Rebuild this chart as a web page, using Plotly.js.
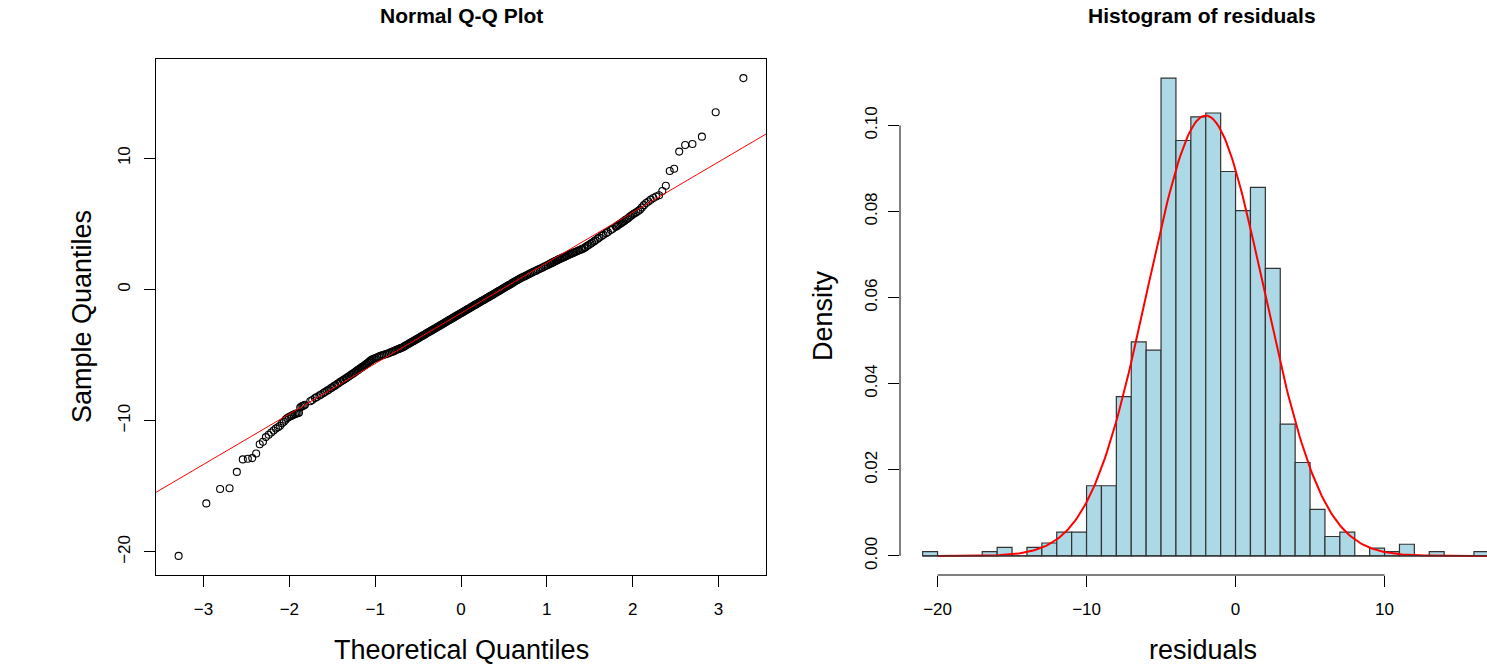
<!DOCTYPE html>
<html>
<head>
<meta charset="utf-8">
<script src="https://cdn.plot.ly/plotly-3.0.1.min.js"></script>
<style>
html,body{margin:0;padding:0;background:#fff;overflow:hidden;}
#chart{width:1487px;height:664px;}
</style>
</head>
<body>
<div id="chart"></div>
<script>
// ---------------- DATA ----------------
// Normal Q-Q plot: sorted residuals (sample quantiles) at given ranks, n = 1000
const qqN = 1000;
// ranks 1..35
const qqLowTail = [-20.3,-16.3,-15.2,-15.15,-13.9,-12.95,-12.9,-12.85,-12.5,-11.8,
  -11.6,-11.25,-11.07,-10.9,-10.75,-10.6,-10.5,-10.38,-10.2,-10.08,
  -9.92,-9.8,-9.72,-9.66,-9.6,-9.55,-9.5,-9.46,-9.43,-9.4,
  -9.0,-8.92,-8.88,-8.84,-8.78];
// ranks 40..965 step 5
const qqBody = [
  -8.52,-8.28,-8.08,-7.89,-7.71,-7.53,-7.37,-7.21,-7.06,-6.92,
  -6.78,-6.66,-6.52,-6.40,-6.27,-6.15,-6.03,-5.92,-5.81,-5.70,
  -5.58,-5.46,-5.35,-5.29,-5.23,-5.17,-5.11,-5.06,-5.02,-4.98,
  -4.94,-4.90,-4.86,-4.81,-4.77,-4.72,-4.67,-4.62,-4.58,-4.53,
  -4.49,-4.45,-4.40,-4.34,-4.28,-4.22,-4.16,-4.10,-4.05,-3.99,
  -3.94,-3.88,-3.83,-3.77,-3.72,-3.66,-3.61,-3.55,-3.50,-3.45,
  -3.40,-3.34,-3.29,-3.24,-3.19,-3.14,-3.09,-3.04,-2.99,-2.94,
  -2.89,-2.84,-2.79,-2.74,-2.69,-2.64,-2.59,-2.54,-2.49,-2.44,
  -2.39,-2.34,-2.29,-2.25,-2.20,-2.15,-2.10,-2.05,-2.00,-1.96,
  -1.91,-1.86,-1.81,-1.77,-1.72,-1.67,-1.62,-1.57,-1.52,-1.47,
  -1.43,-1.38,-1.33,-1.28,-1.23,-1.18,-1.14,-1.09,-1.04,-0.99,
  -0.94,-0.89,-0.85,-0.80,-0.75,-0.70,-0.65,-0.60,-0.55,-0.50,
  -0.45,-0.40,-0.34,-0.29,-0.23,-0.18,-0.13,-0.08,-0.02,0.03,
  0.09,0.14,0.20,0.25,0.31,0.36,0.42,0.48,0.54,0.60,
  0.66,0.72,0.78,0.83,0.89,0.94,0.99,1.04,1.10,1.15,
  1.21,1.27,1.33,1.38,1.43,1.50,1.56,1.61,1.67,1.74,
  1.81,1.87,1.94,2.01,2.09,2.16,2.24,2.31,2.39,2.46,
  2.54,2.62,2.71,2.78,2.87,2.96,3.05,3.16,3.32,3.48,
  3.66,3.87,4.08,4.29,4.52,4.77];
// ranks 42..147 step 5
const qqLowFill = [-8.42,-8.20,-8.00,-7.82,-7.64,-7.47,-7.31,-7.15,-7.00,-6.86,
  -6.73,-6.60,-6.47,-6.35,-6.22,-6.10,-5.99,-5.88,-5.77,-5.65,-5.53,-5.42];
// ranks 852..962 step 5
const qqHighFill = [1.97,2.04,2.12,2.19,2.27,2.34,2.42,2.49,2.57,2.66,
  2.74,2.82,2.91,3.00,3.09,3.22,3.38,3.55,3.74,3.95,4.16,4.38,4.62];
// ranks 966..1000
const qqHighTail = [4.83,4.90,4.96,5.02,5.08,5.15,5.22,5.30,5.37,5.44,
  5.55,5.63,5.72,5.80,5.88,5.97,6.08,6.25,6.42,6.58,
  6.70,6.84,6.97,7.08,7.18,7.5,7.9,9.02,9.2,10.5,
  11.0,11.08,11.64,13.5,16.1];
const qqSegments = [
  {start:1,   step:1, values:qqLowTail},
  {start:40,  step:5, values:qqBody},
  {start:42,  step:5, values:qqLowFill},
  {start:852, step:5, values:qqHighFill},
  {start:966, step:1, values:qqHighTail}
];

// Histogram of residuals (bin width 1, density)
const binLefts = [-21,-20,-19,-18,-17,-16,-15,-14,-13,-12,-11,-10,-9,-8,-7,-6,-5,-4,-3,-2,
  -1,0,1,2,3,4,5,6,7,8,9,10,11,12,13,14,15,16];
const binDensity = [0.001,0,0,0,0.001,0.002,0,0.002,0.003,0.0055,0.0055,0.0163,0.0163,0.037,0.0497,0.0478,0.111,0.0965,0.102,0.1029,
  0.0893,0.0802,0.0856,0.0668,0.0306,0.0217,0.0108,0.0045,0.0055,0,0.0018,0.001,0.0027,0,0.001,0,0,0.001];
const curveMean = -2.0, curveSd = 3.9, curveFrom = -20, curveTo = 17;

const qqXTicks = [-3,-2,-1,0,1,2,3];
const qqYTicks = [-20,-10,0,10];
const histXTicks = [-20,-10,0,10];
const histYTicks = [0,0.02,0.04,0.06,0.08,0.10];

// ---------------- helpers ----------------
function qnorm(p){
  const a=[-3.969683028665376e+01,2.209460984245205e+02,-2.759285104469687e+02,1.383577518672690e+02,-3.066479806614716e+01,2.506628277459239e+00];
  const b=[-5.447609879822406e+01,1.615858368580409e+02,-1.556989798598866e+02,6.680131188771972e+01,-1.328068155288572e+01];
  const c=[-7.784894002430293e-03,-3.223964580411365e-01,-2.400758277161838e+00,-2.549732539343734e+00,4.374664141464968e+00,2.938163982698783e+00];
  const d=[7.784695709041462e-03,3.224671290700398e-01,2.445134137142996e+00,3.754408661907416e+00];
  const pl=0.02425, ph=1-pl; let q,r;
  if(p<pl){q=Math.sqrt(-2*Math.log(p));return (((((c[0]*q+c[1])*q+c[2])*q+c[3])*q+c[4])*q+c[5])/((((d[0]*q+d[1])*q+d[2])*q+d[3])*q+1);}
  if(p<=ph){q=p-0.5;r=q*q;return (((((a[0]*r+a[1])*r+a[2])*r+a[3])*r+a[4])*r+a[5])*q/(((((b[0]*r+b[1])*r+b[2])*r+b[3])*r+b[4])*r+1);}
  q=Math.sqrt(-2*Math.log(1-p));return -(((((c[0]*q+c[1])*q+c[2])*q+c[3])*q+c[4])*q+c[5])/((((d[0]*q+d[1])*q+d[2])*q+d[3])*q+1);
}
const W=1487,H=664;
const px=x=>x/W, py=y=>1-y/H;

// Q-Q points
const qqRank=[], qqSample=[];
qqSegments.forEach(s=>s.values.forEach((v,i)=>{qqRank.push(s.start+i*s.step);qqSample.push(v);}));
const qqTheo = qqRank.map(r=>qnorm((r-0.5)/qqN));
// qqline through the quartiles
const q1 = qqSample[qqRank.indexOf(250)], q3 = qqSample[qqRank.indexOf(750)];
const z1 = qnorm(0.25), z3 = qnorm(0.75);
const slope = (q3-q1)/(z3-z1), intercept = q1 - slope*z1;
const xLo=-3.554, xHi=3.554;

// histogram
const binCenters = binLefts.map(l=>l+0.5);
const curveX=[],curveY=[];
for(let i=0;i<=300;i++){const x=curveFrom+(curveTo-curveFrom)*i/300;curveX.push(x);
  curveY.push(Math.exp(-0.5*Math.pow((x-curveMean)/curveSd,2))/(curveSd*Math.sqrt(2*Math.PI)));}

const FONT='"Liberation Sans", Arial, "DejaVu Sans", sans-serif';

const traces=[
  {type:'scatter',mode:'markers',x:qqTheo,y:qqSample,xaxis:'x',yaxis:'y',
   marker:{symbol:'circle-open',size:7,color:'#000',line:{width:1.1,color:'#000'}},hoverinfo:'skip'},
  {type:'scatter',mode:'lines',x:[xLo,xHi],y:[intercept+slope*xLo,intercept+slope*xHi],xaxis:'x',yaxis:'y',
   line:{color:'#ff0000',width:1},hoverinfo:'skip'},
  {type:'bar',x:binCenters,y:binDensity,width:1,xaxis:'x2',yaxis:'y2',
   marker:{color:'#ADD8E6',line:{color:'#333333',width:1.2}},hoverinfo:'skip'},
  {type:'scatter',mode:'lines',x:curveX,y:curveY,xaxis:'x2',yaxis:'y2',
   line:{color:'#ff0000',width:2},hoverinfo:'skip'}
];

const tickBase={ticks:'outside',ticklen:11,tickwidth:1,tickcolor:'#000',showgrid:false,zeroline:false,
  tickfont:{family:FONT,size:17,color:'#000'}};
const yDom=[py(575),py(59)];
const ann=(text,x,y,size,angle)=>({text:text,xref:'paper',yref:'paper',x:px(x),y:py(y),xanchor:'center',yanchor:'middle',
  textangle:angle||0,showarrow:false,font:{size:size,family:FONT,color:'#000'}});
const layout={
  width:W,height:H,margin:{l:0,r:0,t:0,b:0},paper_bgcolor:'#fff',plot_bgcolor:'#fff',showlegend:false,
  font:{family:FONT,color:'#000'},
  xaxis:Object.assign({},tickBase,{domain:[px(156),px(766)],range:[xLo,xHi],anchor:'y',tickvals:qqXTicks,
    showline:true,linecolor:'#000',linewidth:1,mirror:true,ticklabelstandoff:8}),
  yaxis:Object.assign({},tickBase,{domain:yDom,range:[-21.756,17.556],anchor:'x',tickvals:qqYTicks,tickangle:-90,
    showline:true,linecolor:'#000',linewidth:1,mirror:true,ticklabelstandoff:7}),
  xaxis2:Object.assign({},tickBase,{domain:[px(900),1],range:[-22.52,16.876],anchor:'y2',tickvals:histXTicks,
    showline:false,ticklabelstandoff:8}),
  yaxis2:Object.assign({},tickBase,{domain:yDom,range:[-0.00444,0.11544],anchor:'x2',tickvals:histYTicks,
    tickformat:'.2f',tickangle:-90,showline:false,ticklabelstandoff:4}),
  bargap:0,
  shapes:[
    {type:'line',xref:'x2',yref:'paper',x0:-20,x1:10,y0:py(575),y1:py(575),line:{color:'#000',width:1}},
    {type:'line',xref:'paper',yref:'y2',x0:px(900),x1:px(900),y0:0,y1:0.10,line:{color:'#000',width:1}},
    {type:'line',xref:'x2',yref:'y2',x0:-21,x1:17,y0:0,y1:0,line:{color:'#333333',width:1.2},layer:'above'}
  ],
  annotations:[
    ann('<b>Normal Q-Q Plot</b>',461,16,21),
    ann('<b>Histogram of residuals</b>',1202,16,21),
    ann('Theoretical Quantiles',461,650,27),
    ann('Sample Quantiles',82,317,27,-90),
    ann('residuals',1203,650,27),
    ann('Density',823,316,27,-90)
  ]
};
Plotly.newPlot('chart',traces,layout,{staticPlot:true,displayModeBar:false});
</script>
</body>
</html>
